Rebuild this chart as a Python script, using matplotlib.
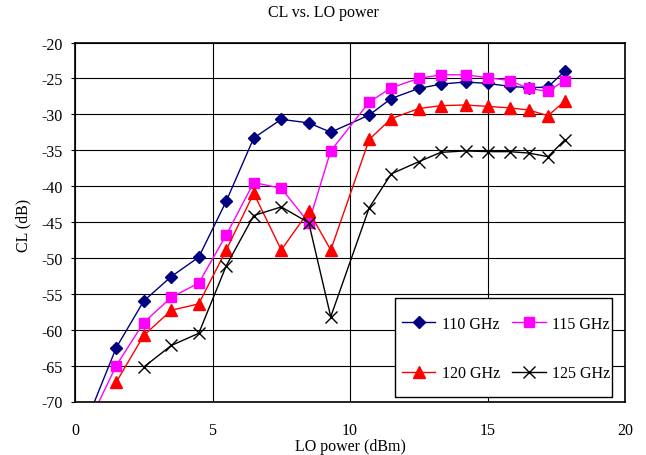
import numpy as np
import matplotlib
matplotlib.use("Agg")
import matplotlib.pyplot as plt
from matplotlib.patches import Rectangle

# LO power sweep (dBm)
lo_power = [0.5, 1.5, 2.5, 3.5, 4.5, 5.5, 6.5, 7.5, 8.5, 9.3,
            10.7, 11.5, 12.5, 13.3, 14.2, 15.0, 15.8, 16.5, 17.2, 17.8]

nan = np.nan
cl_110 = [-72.0, -62.5, -56.0, -52.6, -49.9, -42.1, -33.3, -30.7, -31.2, -32.5,
          -30.1, -27.8, -26.4, -25.8, -25.5, -25.7, -26.1, -26.3, -26.2, -24.0]
cl_115 = [-73.0, -65.0, -59.0, -55.5, -53.5, -46.8, -39.5, -40.3, -45.1, -35.1,
          -28.3, -26.3, -25.0, -24.5, -24.5, -24.9, -25.3, -26.4, -26.8, -25.3]
cl_120 = [nan, -67.3, -60.8, -57.3, -56.4, -48.9, -41.0, -48.9, -43.5, -48.9,
          -33.5, -30.6, -29.2, -28.8, -28.7, -28.9, -29.1, -29.4, -30.2, -28.2]
cl_125 = [nan, nan, -65.2, -62.2, -60.5, -51.1, -44.1, -42.9, -45.1, -58.2,
          -43.0, -38.3, -36.6, -35.3, -35.1, -35.2, -35.2, -35.4, -35.9, -33.6]

labels = ["110 GHz", "115 GHz", "120 GHz", "125 GHz"]

plt.rcParams['font.family'] = ['Liberation Serif', 'DejaVu Serif']
plt.rcParams['axes.unicode_minus'] = False
fs = 11.5
W, H = 646, 456

fig = plt.figure(figsize=(W/100, H/100), dpi=100)
ax = fig.add_axes([75/W, 1 - 402.5/H, 550/W, 359/H])

h1, = ax.plot(lo_power, cl_110, color='#000080', lw=1, marker='D', ms=6.5,
              mfc='#000080', mec='#000080', label=labels[0])
h2, = ax.plot(lo_power, cl_115, color='#FF00FF', lw=1, marker='s', ms=7.5,
              mfc='#FF00FF', mec='#FF00FF', label=labels[1])
h3, = ax.plot(lo_power, cl_120, color='#FF0000', lw=1, marker='^', ms=9,
              mfc='#FF0000', mec='#FF0000', label=labels[2])
h4, = ax.plot(lo_power, cl_125, color='black', lw=1, marker='x', ms=9,
              mew=1, label=labels[3])

ax.set_xlim(0, 20)
ax.set_ylim(-70, -20)
ax.set_xticks(np.arange(0, 21, 5))
ax.set_yticks(np.arange(-70, -19, 5))
ax.grid(True, color='black', lw=0.8)
ax.set_axisbelow(True)
for sp in ax.spines.values():
    sp.set_color('black')
    sp.set_linewidth(1.2)

ax.tick_params(axis='x', length=0, pad=15, labelsize=fs)
ax.tick_params(axis='y', length=3, pad=6, labelsize=fs)

fig.text(23/W, 1 - 225/H, "CL (dB)", rotation=90, ha='center', va='center', fontsize=fs)
fig.text(350/W, 1 - 455/H, "LO power (dBm)", ha='center', va='bottom', fontsize=fs)
fig.text(0.5, 1 - 13/H, "CL vs. LO power", ha='center', va='center', fontsize=fs)

# legend box
box = Rectangle((395/W, 1 - 398/H), 217/W, 99/H, transform=fig.transFigure,
                facecolor='white', edgecolor='black', lw=1.0, clip_on=False, zorder=4)
ax.add_patch(box)
leg = ax.legend([h1, h3, h2, h4], [labels[0], labels[2], labels[1], labels[3]],
                ncol=2, loc='center', bbox_to_anchor=(506/W, 1 - 349.5/H),
                bbox_transform=fig.transFigure, fontsize=fs, frameon=False,
                handlelength=2.1, labelspacing=2.1, columnspacing=0.75,
                handletextpad=0.4, borderpad=0, borderaxespad=0)
leg.set_zorder(5)

fig.savefig("out.png", dpi=100)
